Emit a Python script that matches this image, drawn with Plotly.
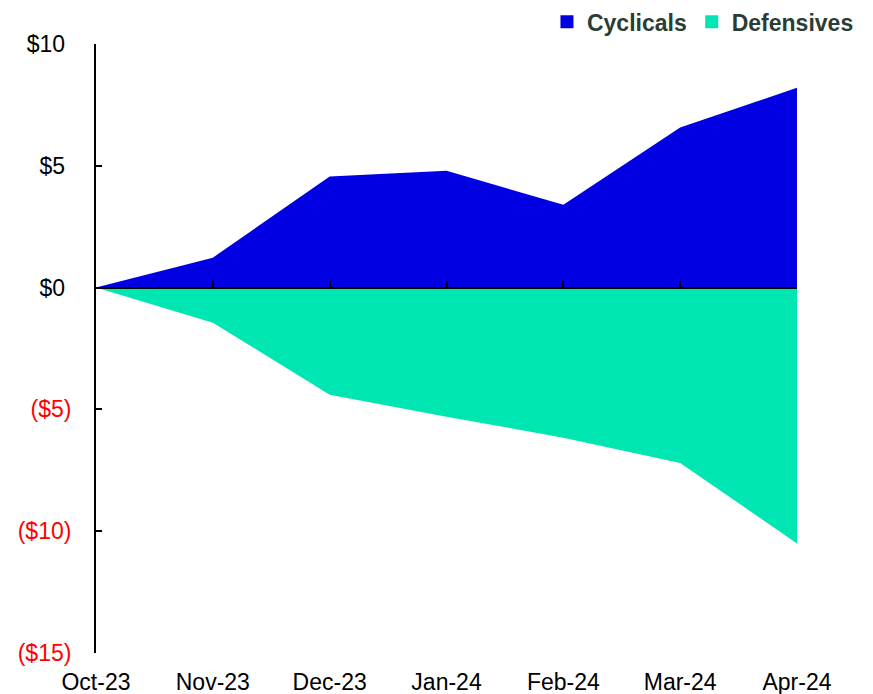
import plotly.graph_objects as go

months = ["Oct-23", "Nov-23", "Dec-23", "Jan-24", "Feb-24", "Mar-24", "Apr-24"]
cyclicals = [0, 1.23, 4.56, 4.8, 3.4, 6.57, 8.2]
defensives = [0, -1.44, -4.4, -5.3, -6.16, -7.2, -10.5]

y_tickvals = [10, 5, 0, -5, -10, -15]
y_ticktext = ["$10\u00a0", "$5\u00a0", "$0\u00a0",
              "<span style='color:#ff0000'>($5)</span>",
              "<span style='color:#ff0000'>($10)</span>",
              "<span style='color:#ff0000'>($15)</span>"]

BLUE = "#0000e2"
TEAL = "#00e6b2"
FONT = "Liberation Sans, Arial, sans-serif"

fig = go.Figure()
fig.add_trace(go.Scatter(x=months, y=cyclicals, mode="lines", fill="tozeroy",
                         fillcolor=BLUE, line=dict(width=0, color=BLUE),
                         showlegend=False, hoverinfo="skip"))
fig.add_trace(go.Scatter(x=months, y=defensives, mode="lines", fill="tozeroy",
                         fillcolor=TEAL, line=dict(width=0, color=TEAL),
                         showlegend=False, hoverinfo="skip"))
# legend entries
fig.add_trace(go.Scatter(x=[None], y=[None], mode="markers", name="Cyclicals",
                         marker=dict(symbol="square", size=13, color=BLUE)))
fig.add_trace(go.Scatter(x=[None], y=[None], mode="markers", name="Defensives",
                         marker=dict(symbol="square", size=13, color=TEAL)))
# helper trace for zero-line axis
fig.add_trace(go.Scatter(x=months, y=[None] * len(months), xaxis="x2",
                         mode="lines", showlegend=False, hoverinfo="skip"))

fig.update_layout(
    width=865, height=686,
    margin=dict(l=88, r=76, t=36, b=41, autoexpand=False),
    paper_bgcolor="white", plot_bgcolor="white",
    font=dict(family=FONT, size=23, color="black"),
    showlegend=True,
    legend=dict(orientation="h", x=1.0884, xanchor="right", y=1.0365, yanchor="middle",
                font=dict(family=FONT, size=23, color="#2b3d33", weight="bold"),
                itemwidth=30, tracegroupgap=0, bgcolor="rgba(0,0,0,0)"),
    xaxis=dict(type="category", range=[0, len(months) - 1], showline=False,
               showgrid=False, zeroline=False, ticks="", ticklabelstandoff=13,
               tickfont=dict(size=23)),
    xaxis2=dict(type="category", range=[0, len(months) - 1], overlaying="x",
                anchor="free", position=0.6, side="bottom", showline=True,
                linecolor="black", linewidth=2, ticks="inside", ticklen=6,
                tickwidth=2, tickcolor="black", showticklabels=False,
                showgrid=False, zeroline=False, layer="above traces"),
    yaxis=dict(range=[-15, 10], tickvals=y_tickvals, ticktext=y_ticktext,
               showline=True, linecolor="black", linewidth=2, ticks="inside",
               ticklen=6, tickwidth=2, tickcolor="black", showgrid=False,
               zeroline=False, ticklabelstandoff=18, tickfont=dict(size=23),
               layer="above traces"),
)

fig.write_html("out.html")
